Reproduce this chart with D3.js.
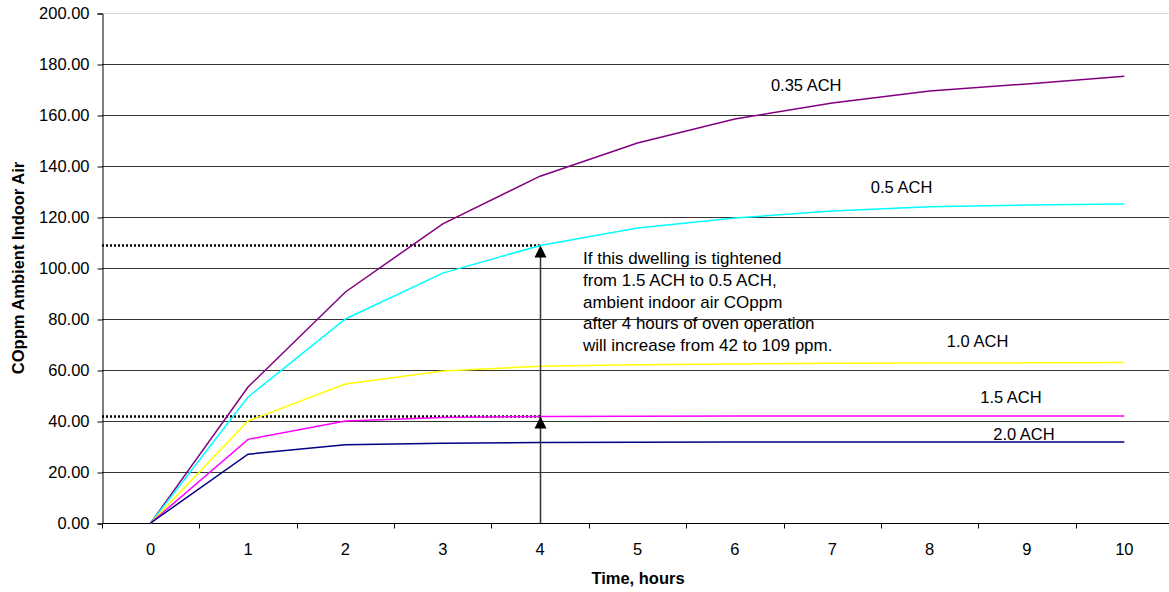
<!DOCTYPE html>
<html>
<head>
<meta charset="utf-8">
<script src="https://cdn.jsdelivr.net/npm/d3@7"></script>
<style>
  body { margin: 0; background: #fff; }
  text { font-family: "Liberation Sans", Arial, sans-serif; }
</style>
</head>
<body>
<svg id="chart" width="1169" height="592"></svg>
<script>
// Chart data
var hours = ["0", "1", "2", "3", "4", "5", "6", "7", "8", "9", "10"];
var ach035 = [0, 53.3, 90.6, 117.3, 136, 149, 158.4, 164.7, 169.4, 172.2, 175.2];
var ach05 = [0, 49.4, 80, 98, 108.8, 115.7, 119.6, 122.4, 124, 124.7, 125.1];
var ach10 = [0, 40, 54.5, 59.6, 61.5, 62.1, 62.4, 62.6, 62.7, 62.8, 62.9];
var ach15 = [0, 32.8, 40, 41.4, 41.8, 41.9, 42, 42, 42, 42, 42];
var ach20 = [0, 27, 30.7, 31.3, 31.6, 31.7, 31.8, 31.8, 31.8, 31.8, 31.8];
var seriesNames = ["0.35 ACH", "0.5 ACH", "1.0 ACH", "1.5 ACH", "2.0 ACH"];
var seriesColors = ["#800080", "#00ffff", "#ffff00", "#ff00ff", "#000080"];
var yTicks = [0, 20, 40, 60, 80, 100, 120, 140, 160, 180, 200];
var noteLines = [
    "If this dwelling is tightened",
    "from 1.5 ACH to 0.5 ACH,",
    "ambient indoor air COppm",
    "after 4 hours of oven operation",
    "will increase from 42 to 109 ppm."
];

(function() {
    var svg = d3.select("#chart"),
        plotLeft = 102,
        plotRight = 1173,
        plotTop = 13,
        plotBottom = 523,
        fontSize = "16.5px";

    var x = d3.scaleBand().domain(hours).range([plotLeft, plotRight]);
    var y = d3.scaleLinear().domain([0, 200]).range([plotBottom, plotTop]);
    var cx = function(d) { return x(d) + x.bandwidth() / 2; };

    // Gridlines
    svg.append("g")
        .selectAll("line")
        .data(yTicks.slice(1))
        .enter()
        .append("line")
        .attr("x1", plotLeft)
        .attr("x2", plotRight)
        .attr("y1", function(d) { return Math.round(y(d)) + 0.5; })
        .attr("y2", function(d) { return Math.round(y(d)) + 0.5; })
        .style("stroke", function(d) { return d === 200 ? "#d8d8d8" : "#333"; })
        .style("stroke-width", 1);

    // Y axis
    var yAxis = svg.append("g")
        .attr("transform", "translate(" + (plotLeft + 0.5) + ",0.5)")
        .call(d3.axisLeft(y).tickValues(yTicks).tickFormat(d3.format(".2f")).tickSize(5).tickPadding(8));
    yAxis.selectAll("text").style("font-size", fontSize).style("fill", "#000").attr("font-family", null);
    yAxis.selectAll("line, path").style("stroke", "#000");

    // X axis, ticks between categories
    var xAxis = svg.append("g")
        .attr("transform", "translate(0," + (plotBottom + 0.5) + ")");
    xAxis.append("line")
        .attr("x1", plotLeft).attr("x2", plotRight)
        .style("stroke", "#000");
    xAxis.selectAll(".tk")
        .data(hours)
        .enter()
        .append("line")
        .attr("class", "tk")
        .attr("x1", function(d) { return Math.round(x(d)) + 0.5; })
        .attr("x2", function(d) { return Math.round(x(d)) + 0.5; })
        .attr("y1", 0).attr("y2", 5)
        .style("stroke", "#000");
    xAxis.selectAll("text")
        .data(hours)
        .enter()
        .append("text")
        .attr("x", cx)
        .attr("y", 31)
        .attr("text-anchor", "middle")
        .style("font-size", fontSize)
        .text(function(d) { return d; });

    // Dotted reference lines at 109 and 42 ppm
    [ach05[4], ach15[4]].forEach(function(v) {
        svg.append("line")
            .attr("x1", plotLeft)
            .attr("x2", cx("4"))
            .attr("y1", y(v))
            .attr("y2", y(v))
            .style("stroke", "#000")
            .style("stroke-width", 2.5)
            .style("stroke-dasharray", "2,2");
    });

    // Series lines
    var allSeries = [ach035, ach05, ach10, ach15, ach20];
    var line = d3.line()
        .x(function(d, i) { return cx(hours[i]); })
        .y(function(d) { return y(d); });

    svg.append("g")
        .selectAll("path")
        .data(allSeries)
        .enter()
        .append("path")
        .attr("d", line)
        .style("fill", "none")
        .style("stroke", function(d, i) { return seriesColors[i]; })
        .style("stroke-width", 1.5);

    // Vertical arrow at 4 hours
    var ax = Math.round(cx("4")) + 0.5;
    svg.append("line")
        .attr("x1", ax).attr("x2", ax)
        .attr("y1", plotBottom).attr("y2", y(ach05[4]) + 4)
        .style("stroke", "#333")
        .style("stroke-width", 1.5);

    [ach05[4], ach15[4]].forEach(function(v) {
        var ty = y(v);
        svg.append("path")
            .attr("d", "M" + ax + "," + ty + "L" + (ax - 6) + "," + (ty + 12) + "L" + (ax + 6) + "," + (ty + 12) + "Z")
            .style("fill", "#000");
    });

    // Series labels
    var labelPos = [
        { name: seriesNames[0], hx: "7", dx: -26, v: 169.5 },
        { name: seriesNames[1], hx: "8", dx: -28, v: 129.6 },
        { name: seriesNames[2], hx: "8", dx: 48, v: 69 },
        { name: seriesNames[3], hx: "9", dx: -16, v: 47 },
        { name: seriesNames[4], hx: "9", dx: -3, v: 32.6 }
    ];
    svg.append("g")
        .selectAll("text")
        .data(labelPos)
        .enter()
        .append("text")
        .attr("x", function(d) { return cx(d.hx) + d.dx; })
        .attr("y", function(d) { return y(d.v); })
        .attr("text-anchor", "middle")
        .style("font-size", fontSize)
        .text(function(d) { return d.name; });

    // Annotation
    svg.append("text")
        .attr("x", 583)
        .attr("y", 264)
        .style("font-size", "17px")
        .selectAll("tspan")
        .data(noteLines)
        .enter()
        .append("tspan")
        .attr("x", 583)
        .attr("dy", function(d, i) { return i === 0 ? 0 : 21.8; })
        .text(function(d) { return d; });

    // Axis titles
    svg.append("text")
        .attr("transform", "translate(24," + ((plotTop + plotBottom) / 2) + ") rotate(-90)")
        .attr("text-anchor", "middle")
        .style("font-size", fontSize)
        .style("font-weight", "bold")
        .text("COppm Ambient Indoor Air");

    svg.append("text")
        .attr("x", 638)
        .attr("y", 584)
        .attr("text-anchor", "middle")
        .style("font-size", fontSize)
        .style("font-weight", "bold")
        .text("Time, hours");
})();
</script>
</body>
</html>
